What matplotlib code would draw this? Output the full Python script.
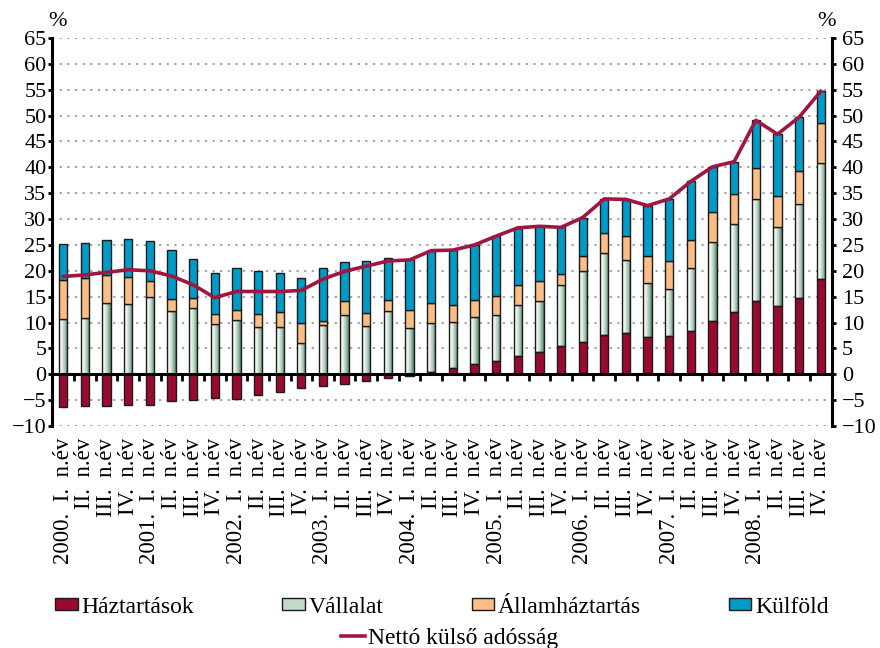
import numpy as np
import matplotlib
matplotlib.use("Agg")
import matplotlib.pyplot as plt
from matplotlib.colors import LinearSegmentedColormap
from matplotlib.patches import Patch
from matplotlib.lines import Line2D

plt.rcParams['font.family'] = ['Liberation Serif', 'DejaVu Serif']

# quarterly data, % of GDP
years = ['2000', '2001', '2002', '2003', '2004', '2005', '2006', '2007', '2008']
quarters = ['I.', 'II.', 'III.', 'IV.']

haztartasok = [-6.4, -6.2, -6.2, -6.0, -5.85, -5.1, -4.95, -4.5, -4.7, -4.05, -3.5, -2.6,
               -2.3, -1.9, -1.3, -0.7, -0.3, 0.5, 1.2, 1.9, 2.5, 3.5, 4.4, 5.5,
               6.2, 7.6, 7.9, 7.2, 7.4, 8.4, 10.2, 12.0, 14.2, 13.1, 14.7, 18.5]
vallalat = [10.7, 10.9, 13.7, 13.6, 14.9, 12.3, 12.85, 9.8, 10.4, 9.2, 9.1, 6.0,
            9.5, 11.5, 9.35, 12.3, 9.0, 9.4, 8.9, 9.1, 9.0, 9.9, 9.8, 11.7,
            13.8, 15.8, 14.1, 10.4, 9.1, 12.1, 15.4, 17.0, 19.6, 15.3, 18.2, 22.4]
allamhaztartas = [7.55, 7.7, 5.5, 5.2, 3.2, 2.3, 1.8, 1.9, 2.1, 2.5, 2.9, 4.0,
                  0.8, 2.6, 2.55, 2.0, 3.4, 3.8, 3.3, 3.3, 3.7, 3.8, 3.8, 2.2,
                  2.8, 4.0, 4.8, 5.3, 5.3, 5.5, 5.7, 5.8, 6.1, 6.0, 6.4, 7.7]
kulfold = [6.85, 6.7, 6.8, 7.4, 7.7, 9.4, 7.55, 7.8, 8.1, 8.3, 7.5, 8.7,
           10.2, 7.6, 10.0, 8.2, 9.9, 10.2, 10.6, 10.7, 11.5, 11.1, 10.6, 9.0,
           7.5, 6.5, 6.8, 9.7, 12.1, 11.3, 8.8, 6.3, 9.2, 12.0, 10.4, 6.1]
netto = [18.9, 19.2, 19.7, 20.2, 20.0, 19.0, 17.3, 14.8, 16.0, 16.0, 16.0, 16.2,
         18.4, 19.9, 20.9, 21.9, 22.1, 23.9, 24.0, 25.0, 26.7, 28.3, 28.6, 28.4,
         30.3, 33.9, 33.8, 32.6, 33.9, 37.3, 40.1, 41.1, 49.1, 46.4, 49.7, 54.7]

labels = []
for y in years:
    for q in quarters:
        if q == 'I.':
            labels.append(y + '.  ' + q + '  n.év')
        else:
            labels.append(q + '  n.év')

c_haz = '#9a0a2e'
c_all = '#f9bd86'
c_kul = '#009cc8'
c_line = '#a01640'
vall_cmap = LinearSegmentedColormap.from_list('vall', ['#ffffff', '#e6f0ea', '#a9c6b4', '#4d7e64'])

x = np.arange(len(haztartasok))
w = 0.38
haz = np.array(haztartasok)
vall = np.array(vallalat)
alla = np.array(allamhaztartas)
kul = np.array(kulfold)
b_vall = np.maximum(haz, 0)
b_all = b_vall + vall
b_kul = b_all + alla

fig = plt.figure(figsize=(8.8, 6.48), dpi=100)
ax = fig.add_axes([52/880, 1-426/648, (832-52)/880, (426-38)/648])

edge = dict(edgecolor='#1a1a1a', linewidth=1.0)
ax.bar(x, haz, w, color=c_haz, zorder=3, **edge)
grad = np.linspace(0, 1, 64).reshape(1, -1)
for xi, b, h in zip(x, b_vall, vall):
    ax.imshow(grad, extent=[xi - w/2, xi + w/2, b, b + h], aspect='auto',
              cmap=vall_cmap, zorder=2.5, interpolation='bilinear')
ax.bar(x, vall, w, bottom=b_vall, facecolor='none', zorder=3, **edge)
ax.bar(x, alla, w, bottom=b_all, color=c_all, zorder=3, **edge)
ax.bar(x, kul, w, bottom=b_kul, color=c_kul, zorder=3, **edge)
ax.plot(x, netto, color=c_line, lw=2.6, zorder=6, solid_joinstyle='round')

ax.set_xlim(-0.52, len(x) - 0.48)
ax.set_ylim(-10, 65)
ax.set_yticks(np.arange(-10, 66, 5))
ax.yaxis.grid(True, linestyle=(0, (1.5, 3.5)), color='#8c8c8c', lw=1.1)
ax.set_axisbelow(True)

for s in ['top', 'right']:
    ax.spines[s].set_visible(False)
ax.spines['bottom'].set_position(('data', 0))
ax.spines['bottom'].set_linewidth(2.2)
ax.spines['bottom'].set_zorder(5)
ax.spines['left'].set_linewidth(2.2)
ax.set_xticks(x[:-1] + 0.5)
ax.set_xticklabels([])
ax.tick_params(axis='x', direction='out', length=5, width=2)
ax.tick_params(axis='y', direction='out', length=3, width=2, labelsize=16, pad=1)

for xi, lab in zip(x, labels):
    ax.text(xi, -0.03, lab, transform=ax.get_xaxis_transform(), rotation=90,
            ha='center', va='top', fontsize=16.5)

ax2 = ax.twinx()
ax2.set_ylim(-10, 65)
ax2.set_yticks(np.arange(-10, 66, 5))
for s in ['top', 'left', 'bottom']:
    ax2.spines[s].set_visible(False)
ax2.spines['right'].set_linewidth(2.2)
ax2.tick_params(axis='y', direction='out', length=3, width=2, labelsize=16, pad=4)

fig.text(57/880, 1-22/648, '%', ha='center', va='center', fontsize=16)
fig.text(826/880, 1-22/648, '%', ha='center', va='center', fontsize=16)

handles = [Patch(facecolor=c_haz, **edge), Patch(facecolor='#c3d8cb', **edge),
           Patch(facecolor=c_all, **edge), Patch(facecolor=c_kul, **edge)]
names = ['Háztartások', 'Vállalat', 'Államháztartás', 'Külföld']
fig.legend(handles, names, loc='lower left', ncol=4, mode='expand',
           bbox_to_anchor=(46/880, 1-627/648, (838-46)/880, 30/648),
           frameon=False, fontsize=17, handlelength=0.95, handleheight=0.42,
           handletextpad=0.15, borderaxespad=0)
fig.legend([Line2D([], [], color=c_line, lw=2.6)], ['Nettó külső adósság'],
           loc='center', bbox_to_anchor=(450/880, 1-638/648), frameon=False,
           fontsize=17, handlelength=1.0, handletextpad=0.15, borderaxespad=0)

fig.savefig('out.png', dpi=100)
